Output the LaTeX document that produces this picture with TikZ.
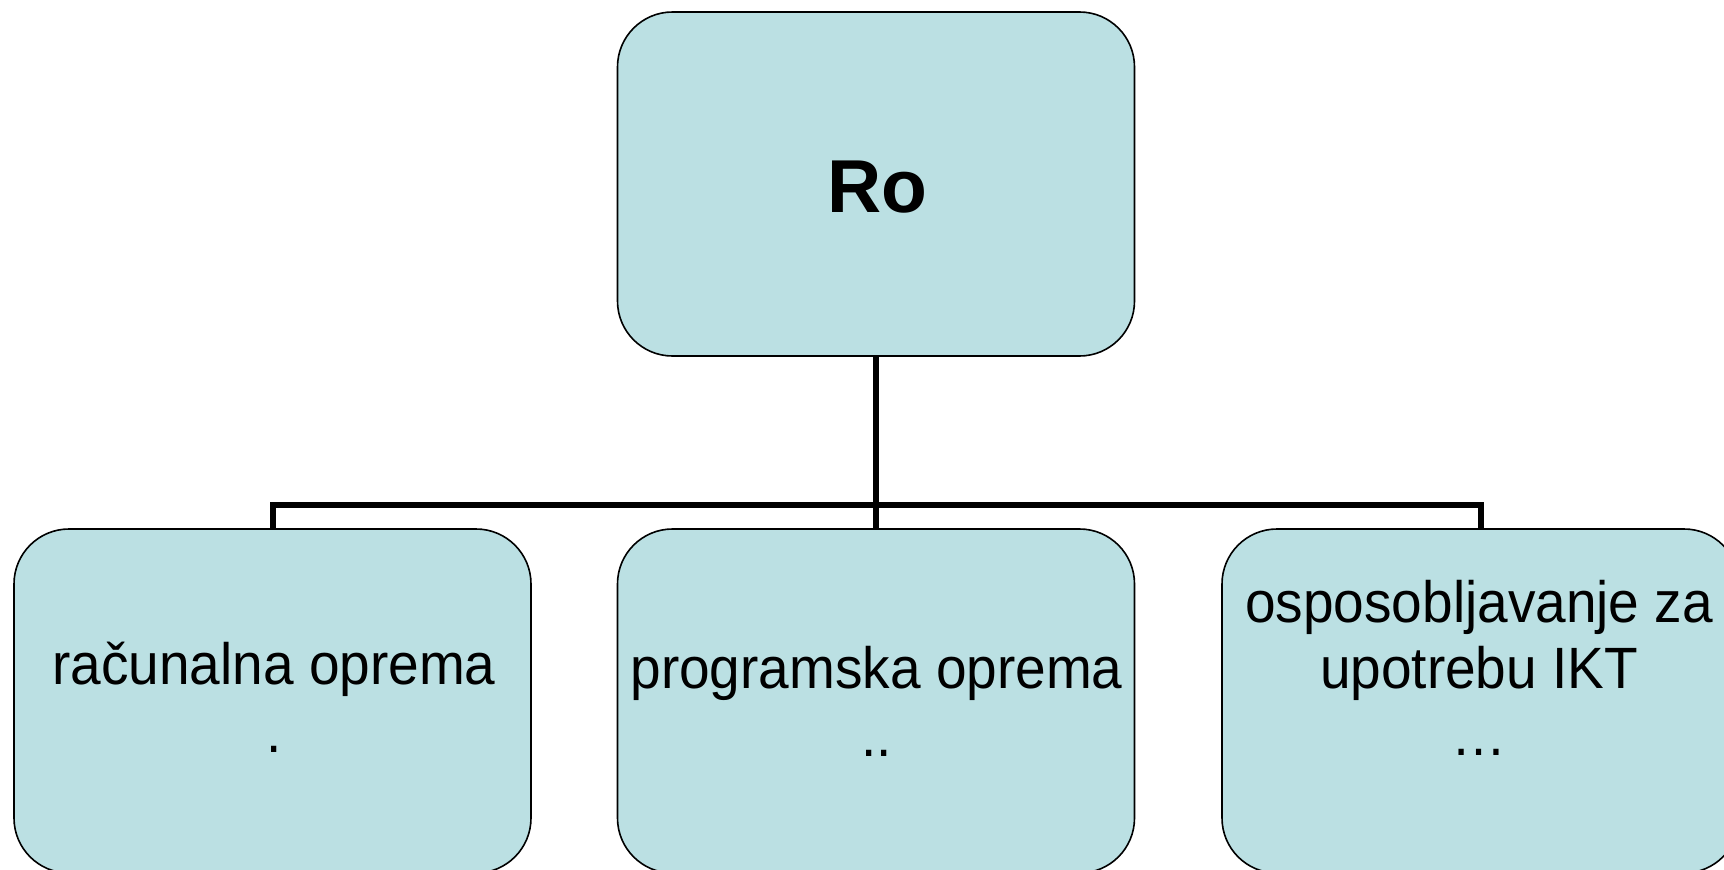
\documentclass[tikz,border=0pt]{standalone}
\usepackage{fontspec}
\usepackage{graphicx}
\setmainfont{Liberation Sans}
\definecolor{boxfill}{HTML}{BBE0E3}
\newcommand{\tallx}[1]{\scalebox{1}[1.06]{#1}}
\begin{document}
\begin{tikzpicture}[x=1pt,y=-1pt,
  box/.style={draw=black, line width=1.6pt, fill=boxfill, rounded corners=55pt,
    minimum width=517pt, minimum height=344pt, inner sep=0pt, outer sep=0pt},
  conn/.style={draw=black, line width=6pt, line join=miter},
  lbl/.style={anchor=base, inner sep=0pt, font=\fontsize{55}{66}\selectfont},
  toplbl/.style={anchor=base, inner sep=0pt, font=\fontsize{75}{90}\selectfont\bfseries}]
\useasboundingbox (0,0) rectangle (1724,870);
\clip (0,0) rectangle (1724,870);
% boxes
\node[box] (top) at (876,184) {};
\node[box] (left) at (272.5,701) {};
\node[box] (mid) at (876,701) {};
\node[box] (right) at (1480.5,701) {};
\coordinate (bus) at (876,505);
% connectors
\draw[conn] (top.south) -- (mid.north);
\draw[conn] (left.north) |- (bus) -| (right.north);
% labels
\node[toplbl] (ttop) at (877,212) {Ro};
\node[lbl] (tl1) at (274,684) {\tallx{računalna oprema}};
\node[lbl] (tl2) at (274,752) {\tallx{.}};
\node[lbl] (tm1) at (876.5,688) {\tallx{programska oprema}};
\node[lbl] (tm2) at (876.5,756) {\tallx{..}};
\node[lbl] (tr1) at (1479,622) {\tallx{osposobljavanje za}};
\node[lbl] (tr2) at (1479,688) {\tallx{upotrebu IKT}};
\node[lbl] (tr3) at (1479,755) {\tallx{…}};
\end{tikzpicture}
\end{document}
